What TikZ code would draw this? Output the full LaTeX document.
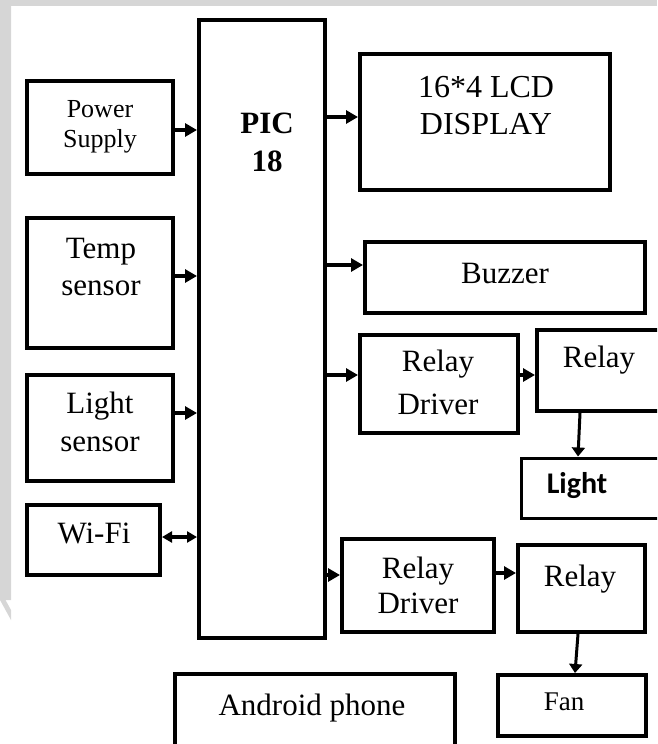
\documentclass[tikz,border=0pt]{standalone}
\usepackage{fontspec}
\setmainfont{Liberation Serif}
\newfontfamily\calibfont{Carlito}
\usetikzlibrary{arrows.meta}

\begin{document}
\begin{tikzpicture}
[x=1pt,y=-1pt,
 blk/.style 2 args={draw=black, line width=4pt, inner sep=0pt, minimum width=#1, minimum height=#2},
 txt/.style={anchor=base, inner sep=0pt, font=\fontsize{31}{36}\selectfont},
 stxt/.style={anchor=base, inner sep=0pt, font=\fontsize{26}{30}\selectfont},
 arr/.style={line width=4pt, -{Triangle[length=12pt,width=13pt]}},
 darr/.style={line width=4pt, {Triangle[length=10pt,width=11pt]}-{Triangle[length=10pt,width=11pt]}},
 varr/.style={line width=3pt, -{Triangle[length=9pt,width=13pt]}}]
\useasboundingbox (0,0) rectangle (657,744);
\clip (0,0) rectangle (657,744);
% grey page edge
\fill[black!16] (0,0) rectangle (657,6);
\fill[black!16] (0,0) rectangle (11,600) -- (0,560) -- cycle;
\fill[black!16] (0,590) -- (11,610) -- (11,620) -- (0,600) -- cycle;

% inputs
\node[blk={146pt}{93pt}] (ps) at (100,127.5) {};
\node[blk={146pt}{130pt}] (ts) at (100,283) {};
\node[blk={146pt}{106pt}] (ls) at (100,428) {};
\node[blk={133pt}{70pt}] (wifi) at (93.5,540) {};
\node[stxt] (ps-a) at (100,117) {Power};
\node[stxt] (ps-b) at (100,147) {Supply};
\node[txt] (ts-a) at (101,258) {Temp};
\node[txt] (ts-b) at (101,295) {sensor};
\node[txt] (ls-a) at (100,413) {Light};
\node[txt] (ls-b) at (100,451) {sensor};
\node[txt] (wifi-a) at (94,543) {Wi-Fi};

% controller
\node[blk={126pt}{618pt}] (pic) at (262,329) {};
\node[txt, font=\fontsize{31}{36}\selectfont\bfseries] (pic-a) at (267,133) {PIC};
\node[txt, font=\fontsize{31}{36}\selectfont\bfseries] (pic-b) at (267,171) {18};

% outputs
\node[blk={250pt}{136pt}] (lcd) at (485,122) {};
\node[blk={280pt}{71pt}] (buz) at (505,277.5) {};
\node[blk={158pt}{98pt}] (rd1) at (439,384) {};
\node[blk={163pt}{81pt}] (rl1) at (618.5,370.5) {};
\node[blk={179pt}{60pt}, line width=3pt] (lt) at (610.5,488) {};
\node[blk={152pt}{93pt}] (rd2) at (418,585.5) {};
\node[blk={127pt}{87pt}] (rl2) at (581.5,588.5) {};
\node[blk={148pt}{61pt}] (fan) at (572,705.5) {};
\node[blk={280pt}{86pt}] (app) at (315,717) {};
\node[txt, font=\fontsize{32}{38}\selectfont] (lcd-a) at (486,97) {16*4 LCD};
\node[txt, font=\fontsize{32}{38}\selectfont] (lcd-b) at (486,134) {DISPLAY};
\node[txt] (buz-a) at (505,283) {Buzzer};
\node[txt] (rd1-a) at (438,371) {Relay};
\node[txt] (rd1-b) at (438,414) {Driver};
\node[txt] (rl1-a) at (599,367) {Relay};
\node[txt, font=\fontsize{30}{34}\selectfont\calibfont\bfseries] (lt-a) at (577,493) {Light};
\node[txt, font=\fontsize{27}{32}\selectfont] (fan-a) at (564,710) {Fan};
\node[txt] (rd2-a) at (418,578) {Relay};
\node[txt] (rd2-b) at (418,613) {Driver};
\node[txt] (rl2-a) at (580,586) {Relay};
\node[txt] (app-a) at (312,715) {Android phone};

% connectors
\foreach \src/\yy in {ps/130, ts/276, ls/413}
  \draw[arr] (\src.east |- 0,\yy) -- (pic.west |- 0,\yy);
\draw[darr] (wifi.east |- 0,537) -- (pic.west |- 0,537);
\foreach \dst/\yy in {lcd/117, buz/265, rd1/375, rd2/575}
  \draw[arr] (pic.east |- 0,\yy) -- (\dst.west |- 0,\yy);
\draw[arr] (rd1.east |- 0,375) -- (rl1.west |- 0,375);
\draw[arr] (rd2.east |- 0,573) -- (rl2.west |- 0,573);
\draw[varr] (rl1.south -| 580,0) -- (lt.north -| 578,0);
\draw[varr] (rl2.south -| 578,0) -- (fan.north -| 575,0);
\end{tikzpicture}
\end{document}
